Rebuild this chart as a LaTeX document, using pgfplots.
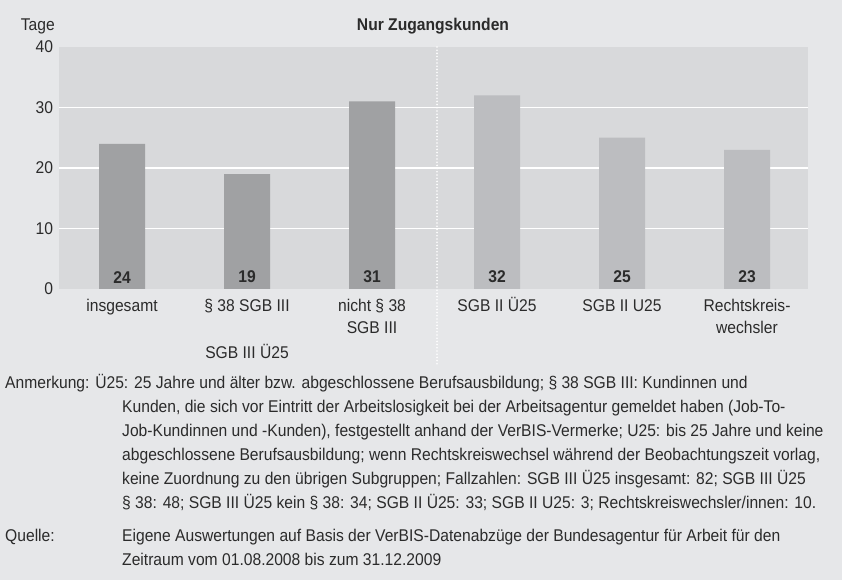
\documentclass[border=0pt]{standalone}
\usepackage{fontspec}
\setmainfont{Liberation Sans}[FakeStretch=0.92]
\usepackage{pgfplots}
\pgfplotsset{compat=1.18}
\definecolor{bgc}{HTML}{E6E7E9}
\definecolor{plotbg}{HTML}{D8D9DB}
\definecolor{bardark}{HTML}{A0A1A3}
\definecolor{barlight}{HTML}{BCBDC0}
\definecolor{txt}{HTML}{2B2B2B}
\begin{document}
\fontsize{17bp}{24bp}\selectfont
\begin{tikzpicture}[x=1bp,y=1bp]
\fill[bgc] (0,0) rectangle (842,580);
\begin{axis}[
  at={(59bp,291bp)}, anchor=south west,
  width=749bp, height=242bp, scale only axis,
  xmin=-0.504, xmax=5.488, ymin=0, ymax=40,
  clip=false,
  axis background/.style={fill=plotbg},
  axis line style={draw=none},
  major tick length=0pt,
  ytick={0,10,20,30,40},
  extra y ticks={10,20,30}, extra y tick labels={},
  extra y tick style={grid=major},
  grid style={white, line width=1.6bp},
  /pgf/number format/assume math mode=true,
  yticklabel style={text=txt, font=\fontsize{17bp}{18bp}\selectfont},
  xtick={0,1,2,3,4,5},
  xticklabels={\strut insgesamt, \strut\S{} 38 SGB III, \strut nicht \S{} 38\\SGB III, \strut SGB II Ü25, \strut SGB II U25, \strut Rechtskreis-\\wechsler},
  xticklabel style={align=center, text=txt, font=\fontsize{17bp}{22bp}\selectfont, anchor=north, yshift=-1bp},
]
\addplot[ybar, bar width=46bp, bar shift=0pt, fill=bardark, draw=none,
  nodes near coords, visualization depends on={y \as \rawy},
  nodes near coords style={anchor=south, shift={(axis direction cs:0,-\rawy)}, font=\bfseries, text=txt, yshift=0bp}]
  coordinates {(0,24) (1,19) (2,31)};
\addplot[ybar, bar width=46bp, bar shift=0pt, fill=barlight, draw=none,
  nodes near coords, visualization depends on={y \as \rawy},
  nodes near coords style={anchor=south, shift={(axis direction cs:0,-\rawy)}, font=\bfseries, text=txt, yshift=0bp}]
  coordinates {(3,32) (4,25) (5,23)};
\addplot[white, line width=1.8bp, line cap=round, dash pattern=on 0pt off 3.2bp, mark=none, forget plot]
  coordinates {(2.52,40) (2.52,-12.6)};
\node[text=txt] at (axis cs:1,-10.4) {SGB III Ü25};
\end{axis}
\node[text=txt, anchor=base west] at (15,549) {Tage};
\node[text=txt, anchor=base, font=\bfseries] at (433,549) {Nur Zugangskunden};
\node[text=txt, anchor=base west, inner sep=0pt] at (5,191) {Anmerkung: Ü25: 25 Jahre und älter bzw. abgeschlossene Berufsausbildung; \S{} 38 SGB III: Kundinnen und};
\node[text=txt, anchor=north west, inner sep=0pt, align=left] at (122,180) {Kunden, die sich vor Eintritt der Arbeitslosigkeit bei der Arbeitsagentur gemeldet haben (Job-To-\\Job-Kundinnen und -Kunden), festgestellt anhand der VerBIS-Vermerke; U25: bis 25 Jahre und keine\\abgeschlossene Berufsausbildung; wenn Rechtskreiswechsel während der Beobachtungszeit vorlag,\\keine Zuordnung zu den übrigen Subgruppen; Fallzahlen: SGB III Ü25 insgesamt: 82; SGB III Ü25\\\S{} 38: 48; SGB III Ü25 kein \S{} 38: 34; SGB II Ü25: 33; SGB II U25: 3; Rechtskreiswechsler/innen: 10.};
\node[text=txt, anchor=base west, inner sep=0pt] at (5,38) {Quelle:};
\node[text=txt, anchor=north west, inner sep=0pt, align=left] at (122,51) {Eigene Auswertungen auf Basis der VerBIS-Datenabzüge der Bundesagentur für Arbeit für den\\Zeitraum vom 01.08.2008 bis zum 31.12.2009};
\end{tikzpicture}
\end{document}
